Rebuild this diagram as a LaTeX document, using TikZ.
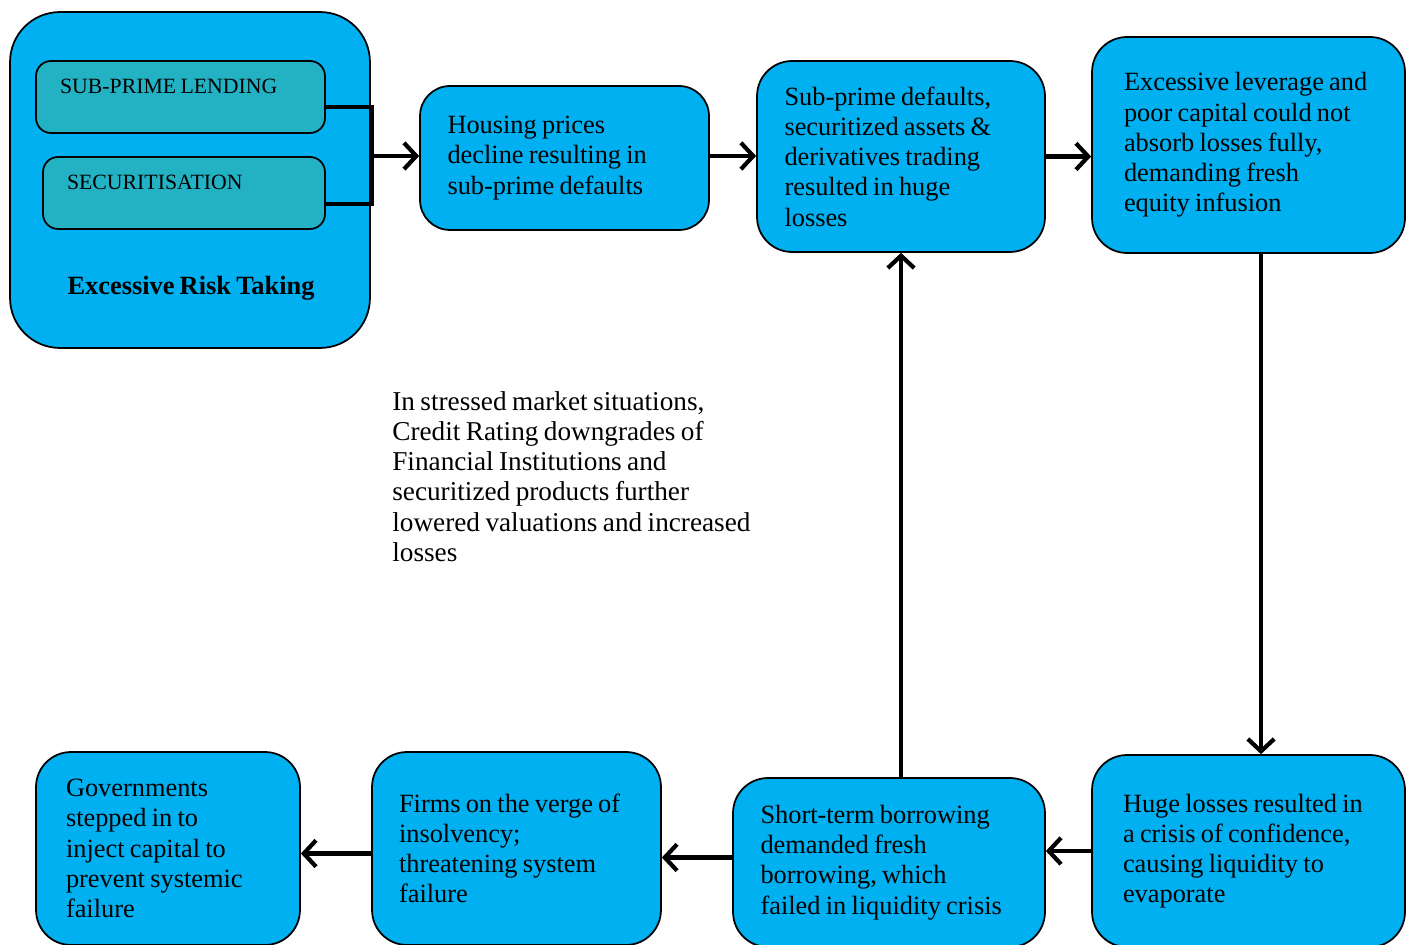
\documentclass[tikz,border=0pt]{standalone}
\usepackage{fontspec}
\setmainfont{Liberation Serif}[WordSpace=0.8]
\usetikzlibrary{arrows.meta}
\definecolor{boxblue}{RGB}{0,176,240}
\definecolor{boxteal}{RGB}{34,178,196}

\begin{document}
\begin{tikzpicture}[x=0.02cm, y=-0.02cm,
        box/.style={draw=black, line width=1pt, fill=boxblue, rounded corners=0.7cm,
            inner sep=0pt, align=left, font=\fontsize{15}{17.2}\selectfont,
            execute at begin node={\spaceskip=0pt\relax}},
        tag/.style={draw=black, line width=1pt, fill=boxteal, rounded corners=0.3cm,
            inner sep=0pt, align=left, font=\fontsize{12.4}{14}\selectfont,
            text height=8pt, text depth=12pt, execute at begin node={\spaceskip=0pt\relax}},
        link/.style={line width=2.4pt, -{Straight Barb[length=7pt,width=15pt,line width=2.4pt]}},
        bracket/.style={line width=2.4pt}]
        \useasboundingbox (0,0) rectangle (1413,945);
        \clip (0,0) rectangle (1413,945);
        % excessive risk taking group
        \node[box, minimum width=7.2cm, minimum height=6.72cm, rounded corners=1cm] (risk) at (190,180) {};
        \node[font=\fontsize{15}{18}\selectfont\bfseries] (risktitle) at (191,288) {Excessive Risk Taking};
        \node[tag, minimum width=5.78cm, minimum height=1.44cm, text width=4.82cm] (lending) at (180.5,97) {SUB-PRIME LENDING};
        \node[tag, minimum width=5.64cm, minimum height=1.44cm, text width=4.68cm] (securit) at (184,193) {SECURITISATION};
        % top row
        \node[box, minimum width=5.78cm, minimum height=2.88cm, text width=4.68cm, rounded corners=0.6cm] (housing) at (564.5,158) {Housing prices\\ decline resulting in\\ sub-prime defaults};
        \node[box, minimum width=5.76cm, minimum height=3.82cm, text width=4.66cm] (subprime) at (901,156.5) {Sub-prime defaults,\\ securitized assets \&\\ derivatives trading\\ resulted in huge\\ losses};
        \node[box, minimum width=6.26cm, minimum height=4.32cm, text width=4.98cm] (leverage) at (1248.5,145) {Excessive leverage and\\ poor capital could not\\ absorb losses fully,\\ demanding fresh\\ equity infusion};
        % bottom row
        \node[box, minimum width=6.26cm, minimum height=3.84cm, text width=5.02cm] (huge) at (1248.5,851) {Huge losses resulted in\\ a crisis of confidence,\\ causing liquidity to\\ evaporate};
        \node[box, minimum width=6.24cm, minimum height=3.38cm, text width=5.14cm] (shortterm) at (889,862.5) {Short-term borrowing\\ demanded fresh\\ borrowing, which\\ failed in liquidity crisis};
        \node[box, minimum width=5.78cm, minimum height=3.86cm, text width=4.7cm] (firms) at (516.5,848.5) {Firms on the verge of\\ insolvency;\\ threatening system\\ failure};
        \node[box, minimum width=5.28cm, minimum height=3.86cm, text width=4.08cm] (govern) at (168,848.5) {Governments\\ stepped in to\\ inject capital to\\ prevent systemic\\ failure};
        % note
        \node[anchor=north west, inner sep=0pt, align=left, font=\fontsize{15.5}{17.2}\selectfont] (note) at (392,391) {In stressed market situations,\\ Credit Rating downgrades of\\ Financial Institutions and\\ securitized products further\\ lowered valuations and increased\\ losses};
        % connectors
        \coordinate (joint) at (372,156);
        \draw[bracket] ([yshift=-0.2cm]lending.east) -| (joint) |- ([yshift=-0.22cm]securit.east);
        \draw[link] (joint) -- (housing.west |- joint);
        \draw[link] (housing.east |- joint) -- (subprime.west |- joint);
        \draw[link] (subprime.east) -- (subprime.east -| leverage.west);
        \draw[link] ([xshift=0.25cm]leverage.south) -- ([xshift=0.25cm]huge.north);
        \draw[link] (huge.west) -- (huge.west -| shortterm.east);
        \draw[link] (subprime.south |- shortterm.north) -- (subprime.south);
        \draw[link] ([yshift=0.1cm]shortterm.west) -- ([yshift=0.1cm]shortterm.west -| firms.east);
        \draw[link] ([yshift=-0.1cm]firms.west) -- ([yshift=-0.1cm]firms.west -| govern.east);
    \end{tikzpicture}
\end{document}
